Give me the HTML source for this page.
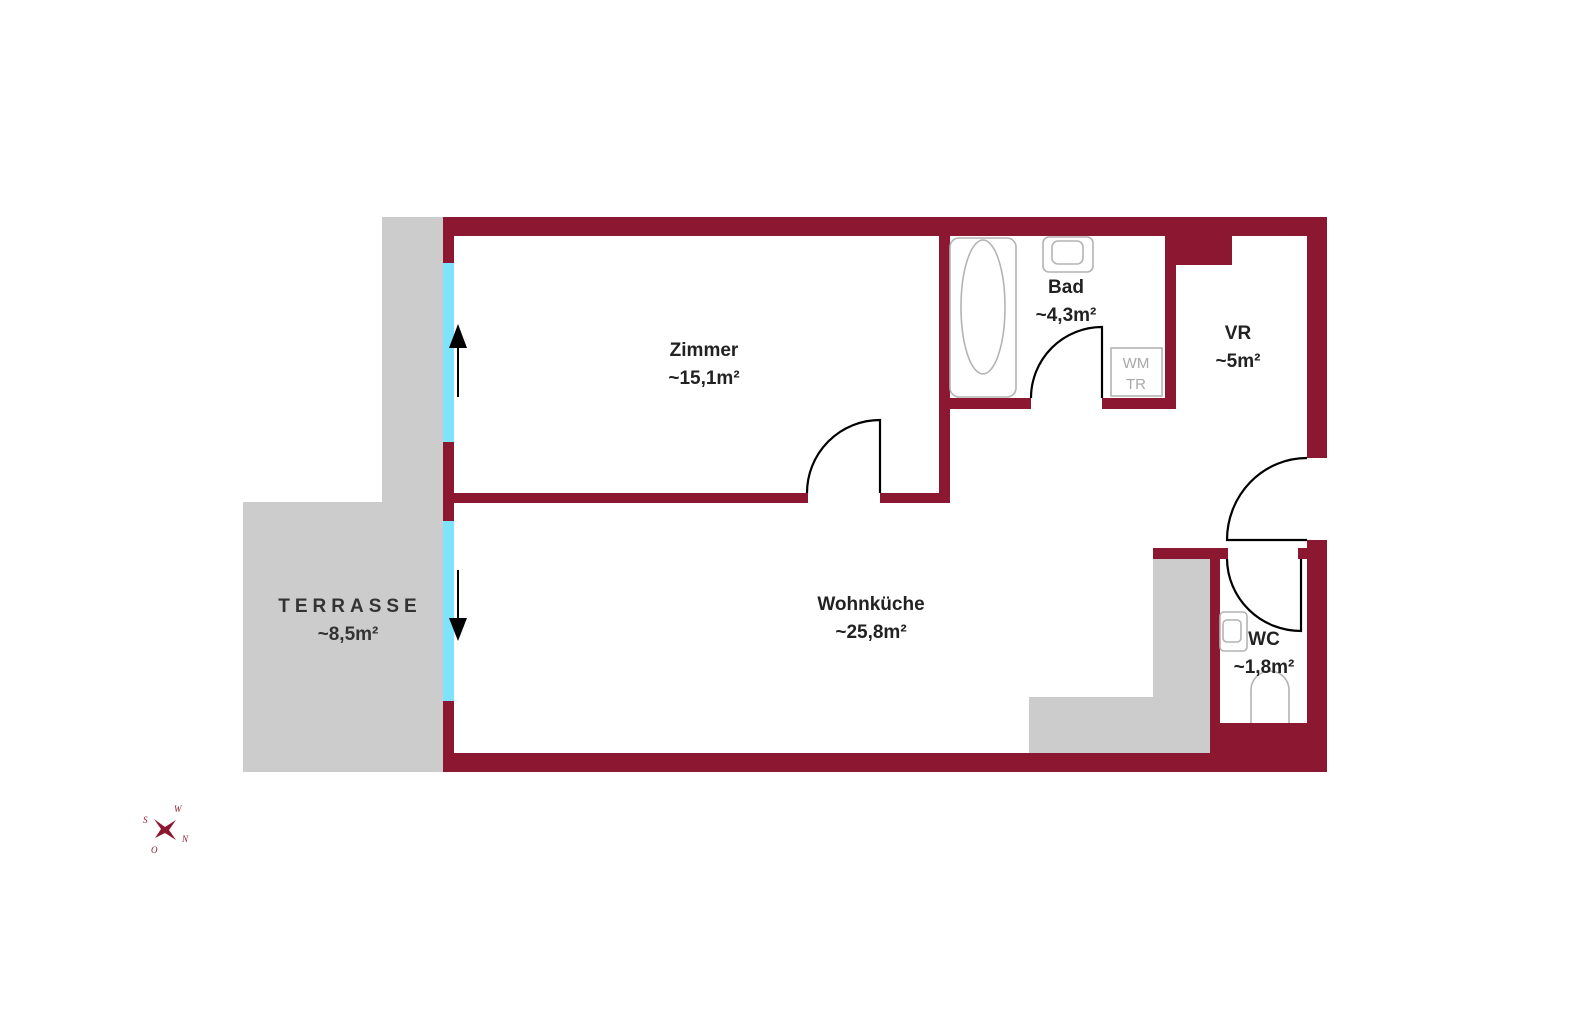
<!DOCTYPE html>
<html><head><meta charset="utf-8"><style>html,body{margin:0;padding:0;background:#fff}svg{display:block}</style></head>
<body>
<svg width="1578" height="1031" viewBox="0 0 1578 1031" xmlns="http://www.w3.org/2000/svg" font-family="Liberation Sans, sans-serif">
<rect width="1578" height="1031" fill="#fff"/>
<!-- terrace -->
<rect x="382" y="217" width="61" height="285" fill="#cccccc"/>
<rect x="243" y="502" width="200" height="270" fill="#cccccc"/>
<!-- counter -->
<rect x="1153" y="558" width="57" height="195" fill="#cccccc"/>
<rect x="1029" y="697" width="181" height="56" fill="#cccccc"/>
<g fill="#8c1730">
<rect x="443" y="217" width="884" height="19"/>
<rect x="443" y="217" width="11" height="555"/>
<rect x="443" y="753" width="884" height="19"/>
<rect x="1307" y="217" width="20" height="241"/>
<rect x="1307" y="540" width="20" height="232"/>
<rect x="454" y="493" width="354" height="10"/>
<rect x="880" y="493" width="70" height="10"/>
<rect x="939" y="236" width="11" height="267"/>
<rect x="950" y="398" width="81" height="11"/>
<rect x="1102" y="398" width="74" height="11"/>
<rect x="1165" y="236" width="11" height="173"/>
<rect x="1176" y="236" width="56" height="29"/>
<rect x="1153" y="548" width="75" height="11"/>
<rect x="1298" y="548" width="10" height="11"/>
<rect x="1210" y="548" width="10" height="224"/>
<rect x="1210" y="723" width="117" height="49"/>
</g>
<!-- windows -->
<rect x="443" y="263" width="11" height="179" fill="#7fe3fb"/>
<rect x="443" y="521" width="11" height="180" fill="#7fe3fb"/>
<!-- arrows -->
<line x1="458" y1="397" x2="458" y2="345" stroke="#000" stroke-width="2"/>
<polygon points="458,324 449,348 467,348" fill="#000"/>
<line x1="458" y1="570" x2="458" y2="620" stroke="#000" stroke-width="2"/>
<polygon points="458,641 449,618 467,618" fill="#000"/>
<!-- doors -->
<g fill="none" stroke="#000" stroke-width="2.2">
<path d="M880,493 V420 A73,73 0 0 0 807,493"/>
<path d="M1102,398 V327 A71,71 0 0 0 1031,398"/>
<path d="M1307,540 H1227 A80,82 0 0 1 1307,458"/>
<path d="M1301,559 V631 A74,73 0 0 1 1227,559"/>
</g>
<!-- fixtures -->
<g fill="none" stroke="#b4b4b4" stroke-width="1.6">
<rect x="950" y="238" width="66" height="159" rx="9"/>
<ellipse cx="983" cy="307" rx="22" ry="67"/>
<rect x="1043" y="237" width="50" height="35" rx="6"/>
<rect x="1052" y="241" width="31" height="23" rx="6"/>
<rect x="1111" y="348" width="51" height="48"/>
<rect x="1220" y="612" width="27" height="39" rx="4"/>
<rect x="1223" y="620" width="18" height="22" rx="4"/>
<path d="M1251,723 V690 A19,19 0 0 1 1289,690 V723"/>
</g>
<text x="1136" y="368" font-size="15" fill="#a8a8a8" text-anchor="middle">WM</text>
<text x="1136" y="389" font-size="15" fill="#a8a8a8" text-anchor="middle">TR</text>
<!-- labels -->
<g font-weight="bold" font-size="19" fill="#222" text-anchor="middle">
<text x="704" y="356">Zimmer</text><text x="704" y="384">~15,1m²</text>
<text x="1066" y="293">Bad</text><text x="1066" y="321">~4,3m²</text>
<text x="1238" y="339">VR</text><text x="1238" y="367">~5m²</text>
<text x="871" y="610">Wohnküche</text><text x="871" y="638">~25,8m²</text>
<text x="1264" y="645">WC</text><text x="1264" y="673">~1,8m²</text>
<text x="350" y="612" letter-spacing="5" fill="#333">TERRASSE</text>
<text x="348" y="640" fill="#333">~8,5m²</text>
</g>
<!-- compass -->
<g fill="#8c1730">
<polygon points="165,827 176,820 169,830 176,840 165,833 155,838 161,829 154,819"/>
<g font-size="9" font-family="Liberation Serif, serif" font-style="italic">
<text x="174" y="812">W</text><text x="143" y="823">S</text><text x="182" y="842">N</text><text x="151" y="853">O</text>
</g>
</g>
</svg>
</body></html>
